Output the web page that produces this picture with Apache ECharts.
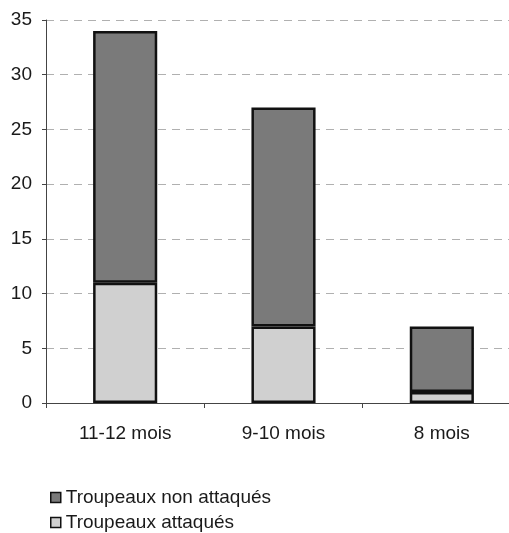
<!DOCTYPE html>
<html><head><meta charset="utf-8">
<script src="https://cdn.jsdelivr.net/npm/echarts@6/dist/echarts.min.js"></script>
<style>html,body{margin:0;padding:0;background:#fff}#c{width:509px;height:533px}</style>
</head><body><div id="c"></div>
<script>
const categories = ['11-12 mois', '9-10 mois', '8 mois'];
const attacked = [11, 7, 1];
const notAttacked = [23, 20, 6];
const yTicks = [0, 5, 10, 15, 20, 25, 30, 35];
const seriesNames = ['Troupeaux non attaqués', 'Troupeaux attaqués'];

const chart = echarts.init(document.getElementById('c'), null, {renderer: 'canvas'});
const font = 'Liberation Sans, Arial, sans-serif';
function legendAt(name, top) {
  return {
    orient: 'horizontal', left: 45, top: top,
    data: [name],
    itemWidth: 10, itemHeight: 10, itemGap: 8,
    icon: 'rect',
    itemStyle: {borderColor: '#111', borderWidth: 1.5},
    textStyle: {fontSize: 19, color: '#1a1a1a', fontFamily: font, padding: [0, 0, 0, 0]}
  };
}
chart.setOption({
  animation: false,
  backgroundColor: '#fff',
  textStyle: {fontFamily: font},
  grid: {left: 46, top: 20, bottom: 130, right: -12, containLabel: false, outerBoundsMode: 'none'},
  legend: [legendAt(seriesNames[0], 483), legendAt(seriesNames[1], 508)],
  xAxis: {
    type: 'category', data: categories,
    axisLine: {lineStyle: {color: '#444', width: 1}},
    axisTick: {show: true, length: 5, lineStyle: {color: '#444'}},
    axisLabel: {fontSize: 19, color: '#1a1a1a', margin: 21, fontFamily: font}
  },
  yAxis: {
    type: 'value', min: yTicks[0], max: yTicks[yTicks.length - 1], interval: 5,
    axisLine: {show: true, lineStyle: {color: '#444', width: 1}},
    axisTick: {show: true, length: 4, lineStyle: {color: '#444'}},
    axisLabel: {fontSize: 19, color: '#1a1a1a', margin: 14, fontFamily: font},
    splitLine: {show: true, lineStyle: {color: '#b0b0b0', type: [8, 6], width: 1}}
  },
  series: [
    {
      name: seriesNames[1], type: 'bar', stack: 'total', data: attacked,
      barWidth: '40.5%',
      itemStyle: {color: '#d0d0d0', borderColor: '#111', borderWidth: 2.5}
    },
    {
      name: seriesNames[0], type: 'bar', stack: 'total', data: notAttacked,
      barWidth: '40.5%',
      itemStyle: {color: '#7a7a7a', borderColor: '#111', borderWidth: 2.5}
    }
  ]
});
</script></body></html>
